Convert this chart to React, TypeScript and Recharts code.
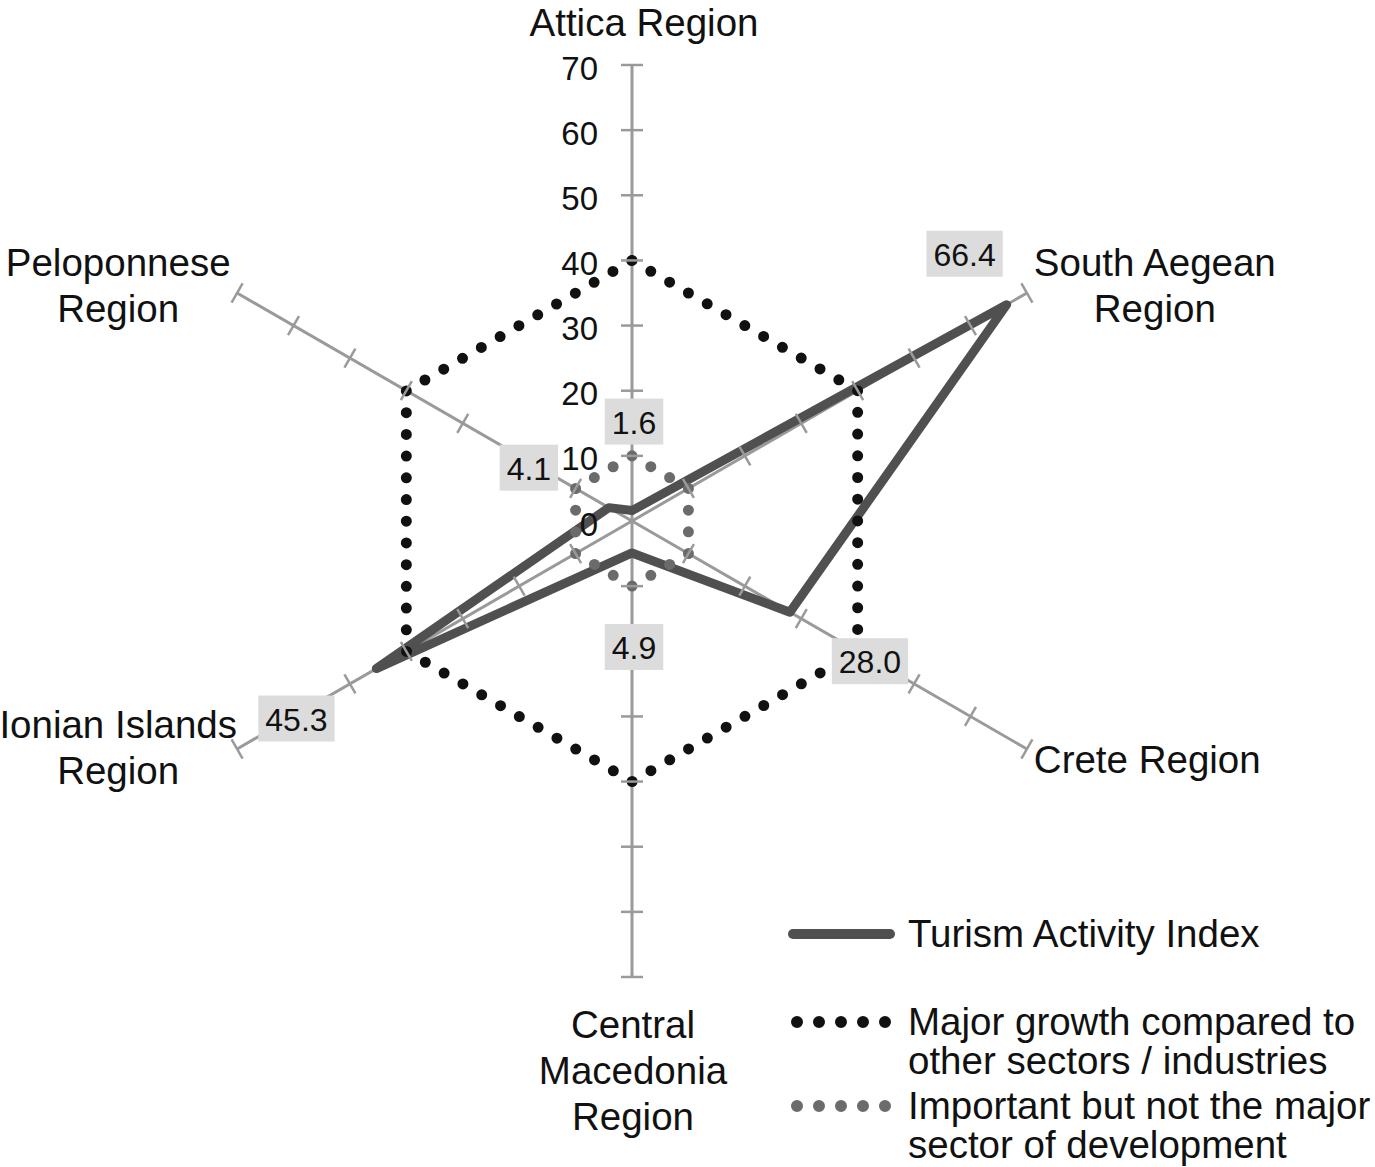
import React from 'react';
import {
  RadarChart,
  Radar,
  PolarGrid,
  PolarAngleAxis,
  PolarRadiusAxis,
  LabelList,
  Legend,
} from 'recharts';

// regions, clockwise from the top
const REGIONS = [
  'Attica Region',
  'South Aegean\nRegion',
  'Crete Region',
  'Central\nMacedonia\nRegion',
  'Ionian Islands\nRegion',
  'Peloponnese\nRegion',
];
const TOURISM_INDEX = [1.6, 66.4, 28.0, 4.9, 45.3, 4.1];
const MAJOR_GROWTH = [40, 40, 40, 40, 40, 40];
const IMPORTANT = [10, 10, 10, 10, 10, 10];
const RADIUS_DOMAIN = [0, 70];

const FONT = '"Liberation Sans", Arial, Helvetica, sans-serif';
const AXIS_GRAY = '#9a9a9a';
const LINE_GRAY = '#505050';
const DOT_GRAY = '#6b6b6b';
const DOT_BLACK = '#111111';

const CX = 632;
const CY = 521;
const AXIS_ANGLES = REGIONS.map((_, i) => 90 - (i * 360) / REGIONS.length);

const chartData = REGIONS.map((region, i) => ({
  region,
  tourism: TOURISM_INDEX[i],
  major: MAJOR_GROWTH[i],
  important: IMPORTANT[i],
}));

// where the region names sit, relative to the tick point of each axis
const CATEGORY_LABEL_POS = [
  { dx: 12, dy: -35, anchor: 'middle' },
  { dx: 121, dy: -27, anchor: 'middle' },
  { dx: 0, dy: 6, anchor: 'start' },
  { dx: 1, dy: 39, anchor: 'middle' },
  { dx: -112, dy: -29, anchor: 'middle' },
  { dx: -112, dy: -27, anchor: 'middle' },
];

// where the grey value boxes sit, relative to each point of the index line
const VALUE_LABEL_POS = [
  [2, -89],
  [-42, -51],
  [80, 49],
  [2, 94],
  [-80, 50],
  [-80, -40],
];

const CategoryTick = (props: any) => {
  const { x, y, payload, index } = props;
  const pos = CATEGORY_LABEL_POS[index] || { dx: 0, dy: 0, anchor: 'middle' };
  const lines = String(payload.value).split('\n');
  const tx = x + pos.dx;
  return (
    <text
      x={tx}
      y={y + pos.dy}
      textAnchor={pos.anchor}
      dominantBaseline="central"
      fontSize={38.5}
      fontFamily={FONT}
      fill="#111"
    >
      {lines.map((line, i) => (
        <tspan key={i} x={tx} dy={i === 0 ? 0 : 46}>
          {line}
        </tspan>
      ))}
    </text>
  );
};

// one radius axis (the vertical one) carries the numbers; its tick radius is
// reused to put the small cross ticks on every spoke
const RadiusTick = (props: any) => {
  const { x, y, payload } = props;
  const r = Math.hypot(x - CX, y - CY);
  return (
    <g>
      {payload.value > 0 &&
        AXIS_ANGLES.map((a) => {
          const rad = (a * Math.PI) / 180;
          const px = CX + r * Math.cos(rad);
          const py = CY - r * Math.sin(rad);
          const nx = Math.sin(rad) * 11;
          const ny = Math.cos(rad) * 11;
          return (
            <line
              key={a}
              x1={px - nx}
              y1={py - ny}
              x2={px + nx}
              y2={py + ny}
              stroke={AXIS_GRAY}
              strokeWidth={2.5}
            />
          );
        })}
      <text
        x={x - 34}
        y={y + 3}
        textAnchor="end"
        dominantBaseline="central"
        fontSize={33}
        fontFamily={FONT}
        fill="#111"
      >
        {payload.value}
      </text>
    </g>
  );
};

const ValueLabel = (props: any) => {
  const { value, index, viewBox } = props;
  let { x, y } = props;
  if (x == null && viewBox) {
    const rad = (-viewBox.startAngle * Math.PI) / 180;
    x = viewBox.cx + Math.cos(rad) * viewBox.outerRadius;
    y = viewBox.cy + Math.sin(rad) * viewBox.outerRadius;
  }
  const [dx, dy] = VALUE_LABEL_POS[index] || [0, 0];
  const text = Number(value).toFixed(1);
  const textWidth = text.replace('.', '').length * 17.8 + 8.9;
  const w = textWidth + 14;
  const h = 46;
  const bx = x + dx;
  const by = y + dy;
  return (
    <g>
      <rect x={bx - w / 2} y={by - h / 2} width={w} height={h} fill="#dcdcdc" />
      <text
        x={bx}
        y={by + 1}
        textAnchor="middle"
        dominantBaseline="central"
        fontSize={32}
        fontFamily={FONT}
        fill="#111"
      >
        {text}
      </text>
    </g>
  );
};

const LEGEND_ITEMS = [
  { kind: 'line', color: LINE_GRAY, lines: ['Turism Activity Index'], top: 0 },
  { kind: 'dots', color: DOT_BLACK, lines: ['Major growth compared to', 'other sectors / industries'], top: 88 },
  { kind: 'dots', color: DOT_GRAY, lines: ['Important but not the major', 'sector of development'], top: 172 },
];

const LegendContent = () => (
  <div style={{ position: 'relative', width: 590, height: 250, fontFamily: FONT }}>
    {LEGEND_ITEMS.map((item, i) => (
      <div key={i} style={{ position: 'absolute', left: 0, top: item.top, display: 'flex' }}>
        <svg width={120} height={38} style={{ flex: 'none' }}>
          {item.kind === 'line' ? (
            <line x1={8} x2={105} y1={19} y2={19} stroke={item.color} strokeWidth={10} strokeLinecap="round" />
          ) : (
            <line
              x1={12}
              x2={101}
              y1={19}
              y2={19}
              stroke={item.color}
              strokeWidth={12}
              strokeLinecap="round"
              strokeDasharray="0 22"
            />
          )}
        </svg>
        <div style={{ fontSize: 38.5, lineHeight: '38.5px', color: '#111', whiteSpace: 'nowrap', marginLeft: 3 }}>
          {item.lines.map((l, j) => (
            <div key={j}>{l}</div>
          ))}
        </div>
      </div>
    ))}
  </div>
);

export default function App() {
  return (
    <div style={{ position: 'absolute', left: 0, top: 0, width: 1375, height: 1167, background: '#fff' }}>
      <RadarChart
        width={1375}
        height={1167}
        data={chartData}
        cx={CX}
        cy={CY}
        outerRadius={456}
        startAngle={90}
        endAngle={-270}
        margin={{ top: 0, right: 0, bottom: 0, left: 0 }}
      >
        <PolarGrid polarRadius={[]} radialLines stroke={AXIS_GRAY} strokeWidth={3} />
        <PolarAngleAxis
          dataKey="region"
          axisLine={false}
          tickLine={false}
          tickSize={0}
          tick={<CategoryTick />}
        />
        <PolarRadiusAxis
          angle={90}
          type="number"
          domain={RADIUS_DOMAIN}
          tickCount={8}
          axisLine={false}
          tick={<RadiusTick />}
        />
        <Radar
          name="Turism Activity Index"
          dataKey="tourism"
          stroke={LINE_GRAY}
          strokeWidth={9}
          strokeLinejoin="round"
          fill="none"
          fillOpacity={0}
          dot={false}
          isAnimationActive={false}
        >
          <LabelList dataKey="tourism" content={<ValueLabel />} />
        </Radar>
        <Radar
          name="Major growth compared to other sectors / industries"
          dataKey="major"
          stroke={DOT_BLACK}
          strokeWidth={11}
          strokeLinecap="round"
          strokeDasharray="0 21.71"
          fill="none"
          fillOpacity={0}
          dot={false}
          isAnimationActive={false}
        />
        <Radar
          name="Important but not the major sector of development"
          dataKey="important"
          stroke={DOT_GRAY}
          strokeWidth={11}
          strokeLinecap="round"
          strokeDasharray="0 21.71"
          fill="none"
          fillOpacity={0}
          dot={false}
          isAnimationActive={false}
        />
        <Legend
          content={<LegendContent />}
          wrapperStyle={{ left: 785, top: 915, width: 590, bottom: 'auto' }}
        />
      </RadarChart>
    </div>
  );
}
